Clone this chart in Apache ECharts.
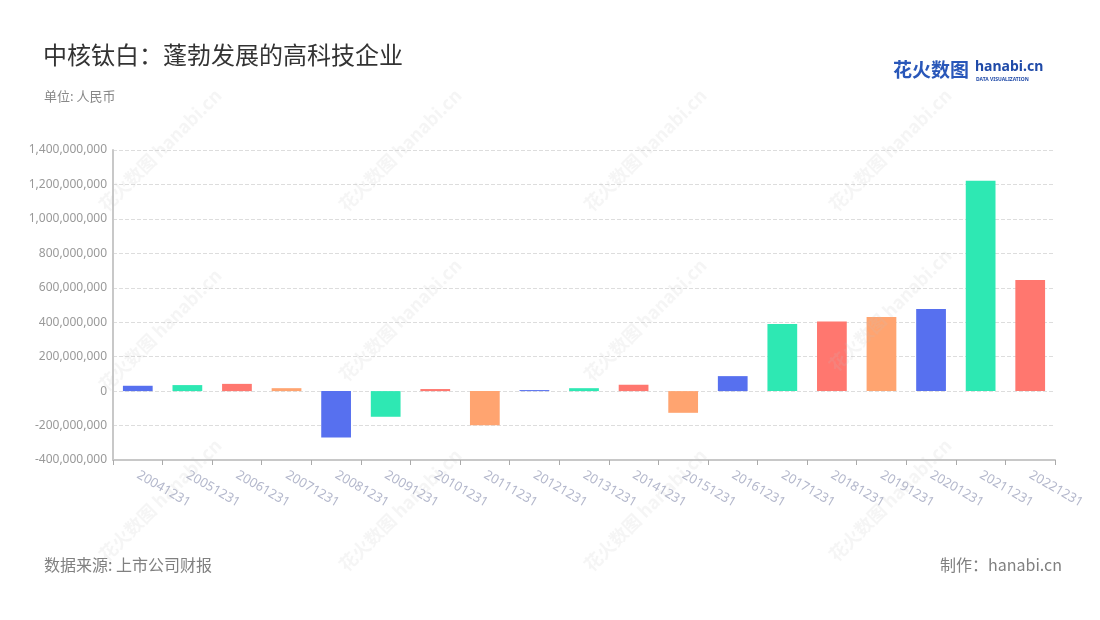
<!DOCTYPE html>
<html><head><meta charset="utf-8">
<script src="https://cdn.jsdelivr.net/npm/echarts@6/dist/echarts.min.js"></script>
<style>html,body{margin:0;padding:0;background:#fff}#c{width:1100px;height:620px}</style>
</head><body><div id="c"></div>
<script>
const categories = ['20041231','20051231','20061231','20071231','20081231','20091231','20101231','20111231','20121231','20131231','20141231','20151231','20161231','20171231','20181231','20191231','20201231','20211231','20221231'];
const values = [31e6, 35e6, 42e6, 17e6, -269e6, -149e6, 12e6, -198e6, 6e6, 17e6, 37e6, -126e6, 87e6, 390e6, 404e6, 430e6, 477e6, 1221e6, 645e6];
const palette = ['#5770ef', '#2ee8b3', '#ff776f', '#ffa470'];
const yTicks = {min: -400000000, max: 1400000000, interval: 200000000};

const fmt = v => v.toLocaleString('en-US');
const wm = [];
const wmPos = [[160,150],[400,150],[645,150],[890,150],[160,330],[400,320],[645,320],[890,310],[160,500],[400,510],[645,510],[890,500]];
wmPos.forEach(p => {
  wm.push({type:'text', x:p[0], y:p[1], rotation: Math.PI/4, z: 100, silent:true,
    style:{text:'花火数图 hanabi.cn', fill:'rgba(190,190,190,0.16)', font:'bold 18px "Noto Sans CJK SC"', textAlign:'center', textVerticalAlign:'middle'}});
});

const chart = echarts.init(document.getElementById('c'));
chart.setOption({
  backgroundColor:'#fff',
  animation:false,
  title:[
    {text:'中核钛白：蓬勃发展的高科技企业', left:43, top:43, padding:0, textStyle:{fontSize:24, fontWeight:'normal', color:'#333', fontFamily:'"Noto Sans CJK SC"'}},
    {text:'单位: 人民币', left:44, top:90, padding:0, textStyle:{fontSize:13, fontWeight:'normal', color:'#888', fontFamily:'"Noto Sans CJK SC"'}}
  ],
  graphic: wm.concat([
    {type:'text', left:893, top:60, style:{text:'花火数图', fill:'#2957b9', font:'bold 19px "Noto Sans CJK SC"'}},
    {type:'text', left:975, top:60, style:{text:'hanabi.cn', fill:'#1f4aa8', font:'bold 14px "Noto Sans"'}},
    {type:'text', left:976, top:77, style:{text:'DATA VISUALIZATION', fill:'#1f4aa8', font:'bold 5px "Noto Sans"'}},
    {type:'text', left:44, top:557, style:{text:'数据来源: 上市公司财报', fill:'#808080', font:'16px "Noto Sans CJK SC"'}},
    {type:'text', right:38, top:557, style:{text:'制作：hanabi.cn', fill:'#808080', font:'16px "Noto Sans CJK SC"'}}
  ]),
  grid:{left:113, right:45, top:150, bottom:160},
  xAxis:{
    type:'category', data:categories,
    axisLine:{onZero:false, lineStyle:{color:'#c8c8c8', width:2}},
    axisTick:{show:true, lineStyle:{color:'#aaa'}},
    axisLabel:{rotate:-30, color:'#b4b8cc', fontSize:13, margin:14, fontFamily:'"Noto Sans"'}
  },
  yAxis:{
    type:'value', min:yTicks.min, max:yTicks.max, interval:yTicks.interval,
    axisLine:{show:true, lineStyle:{color:'#c8c8c8', width:2}},
    axisTick:{show:false},
    axisLabel:{color:'#999', fontSize:12, margin:6, formatter:fmt, fontFamily:'"Noto Sans"'},
    splitLine:{lineStyle:{type:'dashed', color:'#ddd'}}
  },
  series:[{
    type:'bar', data:values.map((v,i)=>({value:v, itemStyle:{color:palette[i%4]}})),
    barWidth:'60%'
  }]
});
</script></body></html>
